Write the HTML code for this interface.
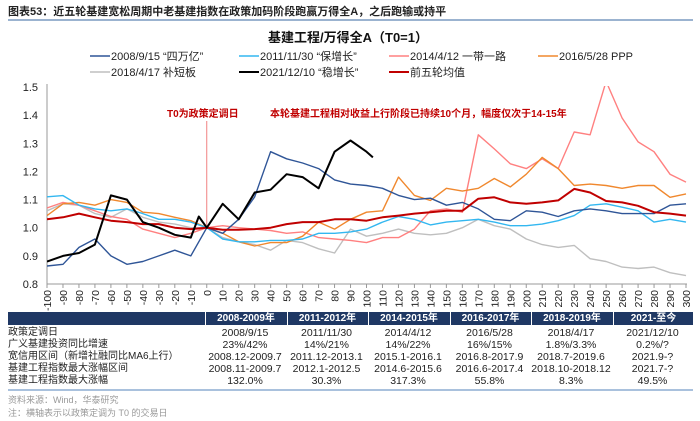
<!DOCTYPE html>
<html><head><meta charset="utf-8">
<style>
body{margin:0;background:#fff;}
#root{position:relative;width:700px;height:421px;overflow:hidden;font-family:"Liberation Sans","Noto Sans CJK SC",sans-serif;}
.t{position:absolute;white-space:nowrap;}
</style></head>
<body>
<div id="root">
<div class="t" style="left:8px;top:3px;font-size:11px;font-weight:bold;color:#222;">图表53：近五轮基建宽松周期中老基建指数在政策加码阶段跑赢万得全A，之后跑输或持平</div>
<div style="position:absolute;left:8px;top:19px;width:685px;height:2px;background:#9bb3d0;"></div>
<svg id="chart" width="700" height="421" style="position:absolute;left:0;top:0;"></svg>
<div id="table"></div>
<div style="position:absolute;left:8px;top:389px;width:685px;height:2px;background:#a9c1dd;"></div>
<div class="t" style="left:8px;top:393px;font-size:9px;color:#999;">资料来源：Wind，华泰研究</div>
<div class="t" style="left:8px;top:406px;font-size:9px;color:#999;">注：横轴表示以政策定调为 T0 的交易日</div>
</div>
<script>
const days = [-100,-90,-80,-70,-60,-50,-40,-30,-20,-10,0,10,20,30,40,50,60,70,80,90,100,110,120,130,140,150,160,170,180,190,200,210,220,230,240,250,260,270,280,290,300];
const s2008 = [0.864,0.87,0.93,0.96,0.90,0.87,0.88,0.90,0.92,0.90,1.0,0.98,1.03,1.11,1.27,1.245,1.23,1.21,1.17,1.155,1.15,1.14,1.115,1.10,1.105,1.08,1.09,1.067,1.03,1.025,1.06,1.055,1.04,1.06,1.067,1.06,1.05,1.05,1.05,1.08,1.085];
const s2011 = [1.11,1.114,1.08,1.067,1.06,1.067,1.05,1.03,1.03,1.02,1.0,0.96,0.95,0.95,0.955,0.955,0.96,0.98,0.98,0.985,0.995,1.02,1.04,1.03,1.01,1.02,1.025,1.03,1.02,1.007,1.007,1.013,1.025,1.043,1.08,1.085,1.073,1.06,1.02,1.03,1.02];
const s2014 = [1.07,1.09,1.08,1.06,1.04,1.03,0.995,0.98,0.965,0.98,1.0,1.007,1.0,0.995,0.99,0.98,0.985,0.965,0.96,0.955,0.947,0.965,0.965,0.995,1.06,1.067,1.055,1.33,1.28,1.227,1.21,1.245,1.21,1.34,1.33,1.52,1.39,1.305,1.27,1.19,1.162];
const s2016 = [1.043,1.085,1.09,1.08,1.1,1.09,1.055,1.05,1.037,1.025,1.0,0.98,0.95,0.935,0.947,0.947,0.97,1.02,0.995,1.03,1.055,1.06,1.18,1.115,1.097,1.14,1.13,1.14,1.175,1.145,1.19,1.25,1.21,1.15,1.155,1.15,1.14,1.15,1.15,1.108,1.12];
const s2018 = [1.06,1.085,1.08,1.05,1.037,1.067,1.037,1.02,1.013,1.0,1.0,0.965,0.95,0.94,0.92,0.955,0.947,0.925,0.91,0.995,0.97,0.98,0.995,0.98,0.975,0.98,1.0,1.03,1.007,0.995,0.96,0.94,0.93,0.937,0.89,0.88,0.86,0.855,0.86,0.84,0.83];
const s2021Days = [-100,-90,-80,-70,-60,-50,-40,-30,-20,-10,-5,0,10,20,30,40,50,60,70,80,90,100,104];
const s2021 = [0.88,0.90,0.91,0.94,1.115,1.10,1.02,1.0,0.975,0.965,1.04,1.0,1.085,1.03,1.125,1.135,1.19,1.18,1.14,1.27,1.31,1.27,1.25];
const sAvg = [1.03,1.037,1.05,1.037,1.025,1.02,1.013,1.013,1.0,0.995,1.0,0.993,0.993,0.995,1.0,1.013,1.02,1.02,1.03,1.03,1.025,1.037,1.043,1.05,1.055,1.06,1.06,1.103,1.108,1.09,1.085,1.09,1.097,1.138,1.125,1.095,1.09,1.078,1.055,1.05,1.043];
const yTicks = [0.8,0.9,1.0,1.1,1.2,1.3,1.4,1.5];
const xTicks = [];
for (let d=-100; d<=300; d+=10) xTicks.push(d);

const NS='http://www.w3.org/2000/svg';
const svg=document.getElementById('chart');
const X0=47,X1=686,Y0=284,Y1=87;
const xs=d=>X0+(d+100)/400*(X1-X0);
const ys=v=>Y0-(v-0.8)/0.7*(Y0-Y1);
function mk(tag,attrs,parent){const e=document.createElementNS(NS,tag);for(const k in attrs)e.setAttribute(k,attrs[k]);(parent||svg).appendChild(e);return e;}

const defs=mk('defs',{});
const cp=mk('clipPath',{id:'plotclip'},defs);
mk('rect',{x:X0,y:Y1-1,width:X1-X0+4,height:Y0-Y1+1},cp);

let t=mk('text',{x:348,y:42,'text-anchor':'middle','font-size':'13','font-weight':'bold',fill:'#111'});
t.textContent='基建工程/万得全A（T0=1）';



const legend=[['2008/9/15 “四万亿”','#2f5597',90,56,1.5],['2011/11/30 “保增长”','#33b7f0',239,56,1.5],['2014/4/12 一带一路','#ff8080',389,56,1.5],['2016/5/28 PPP','#f0882e',538,56,1.5],['2018/4/17 补短板','#bfbfbf',90,72,1.5],['2021/12/10 “稳增长”','#000000',239,72,2],['前五轮均值','#c00000',389,72,2]];
legend.forEach(l=>{
  const g=mk('g',{});
  
  
  mk('line',{x1:l[2],y1:l[3],x2:l[2]+20,y2:l[3],stroke:l[1],'stroke-width':l[4]},g);
  const tt=mk('text',{x:l[2]+21,y:l[3]+4,'font-size':'11',fill:'#222'},g);
  tt.textContent=l[0];
});

// axes
const ax=mk('line',{x1:X0,y1:Y1-3,x2:X0,y2:Y0,stroke:'#999','stroke-width':1});


const bx=mk('line',{x1:X0,y1:Y0,x2:X1+1,y2:Y0,stroke:'#999','stroke-width':1});


yTicks.forEach(v=>{
  const e=mk('text',{x:38,y:ys(v)+4,'text-anchor':'end','font-size':'11',fill:'#222'});
  e.textContent=v.toFixed(1);
  
  
});
xTicks.forEach(d=>{
  mk('line',{x1:xs(d),y1:Y0,x2:xs(d),y2:Y0+4,stroke:'#999','stroke-width':1});
  const e=mk('text',{x:0,y:0,'text-anchor':'end','font-size':'10.5',fill:'#222',transform:`translate(${xs(d)+4},${Y0+6}) rotate(-90)`});
  e.textContent=String(d);
  
  
});

// annotations
const vl=mk('line',{x1:xs(0),y1:121,x2:xs(0),y2:ys(1.0),stroke:'#f08080','stroke-width':1});


let a1=mk('text',{x:167,y:117,'font-size':'10','font-weight':'bold',fill:'#c00000'});
a1.textContent='T0为政策定调日';


let a2=mk('text',{x:270,y:117,'font-size':'10','font-weight':'bold',fill:'#c00000'});
a2.textContent='本轮基建工程相对收益上行阶段已持续10个月，幅度仅次于14-15年';



function series(dArr,vArr,color,w,name){
  const pts=dArr.map((d,i)=>xs(d).toFixed(1)+','+ys(vArr[i]).toFixed(1)).join(' ');
  const p=mk('polyline',{points:pts,fill:'none',stroke:color,'stroke-width':w,'stroke-linejoin':'round','clip-path':'url(#plotclip)'});
  
  
}
series(days,s2018,'#bfbfbf',1.4,'series-2018');
series(days,s2014,'#ff8080',1.4,'series-2014');
series(days,s2016,'#f0882e',1.4,'series-2016');
series(days,s2011,'#33b7f0',1.4,'series-2011');
series(days,s2008,'#2f5597',1.4,'series-2008');
series(days,sAvg,'#c00000',2,'series-average');
series(s2021Days,s2021,'#000000',2,'series-2021');

// table
const cols=['2008-2009年','2011-2012年','2014-2015年','2016-2017年','2018-2019年','2021-至今'];
const rows=[
 ['政策定调日','2008/9/15','2011/11/30','2014/4/12','2016/5/28','2018/4/17','2021/12/10'],
 ['广义基建投资同比增速','23%/42%','14%/21%','14%/22%','16%/15%','1.8%/3.3%','0.2%/?'],
 ['宽信用区间（新增社融同比MA6上行）','2008.12-2009.7','2011.12-2013.1','2015.1-2016.1','2016.8-2017.9','2018.7-2019.6','2021.9-?'],
 ['基建工程指数最大涨幅区间','2008.11-2009.7','2012.1-2012.5','2014.6-2015.6','2016.6-2017.4','2018.10-2018.12','2021.7-?'],
 ['基建工程指数最大涨幅','132.0%','30.3%','317.3%','55.8%','8.3%','49.5%']];
const tb=document.getElementById('table');
const edges=[204,286,367,449,530,612,693];
let h='<div style="position:absolute;left:8px;top:312px;width:685px;height:13px;background:#1f3864;"></div>';
cols.forEach((c,i)=>{h+=`<div class="t" style="left:${edges[i]+1}px;top:312px;width:${edges[i+1]-edges[i]-2}px;height:13px;line-height:13px;text-align:center;font-size:10px;font-weight:bold;color:#fff;border-left:1px solid #fff;">${c}</div>`;});
const rowY=[327,339,351,363,375];
rows.forEach((r,ri)=>{
  h+=`<div class="t" style="left:8px;top:${rowY[ri]}px;font-size:10px;line-height:12px;color:#222;">${r[0]}</div>`;
  for(let i=1;i<7;i++){h+=`<div class="t" style="left:${edges[i-1]}px;top:${rowY[ri]}px;width:${edges[i]-edges[i-1]}px;text-align:center;font-size:10.5px;line-height:12px;color:#222;">${r[i]}</div>`;}
});
tb.innerHTML=h;
</script>
</body></html>
